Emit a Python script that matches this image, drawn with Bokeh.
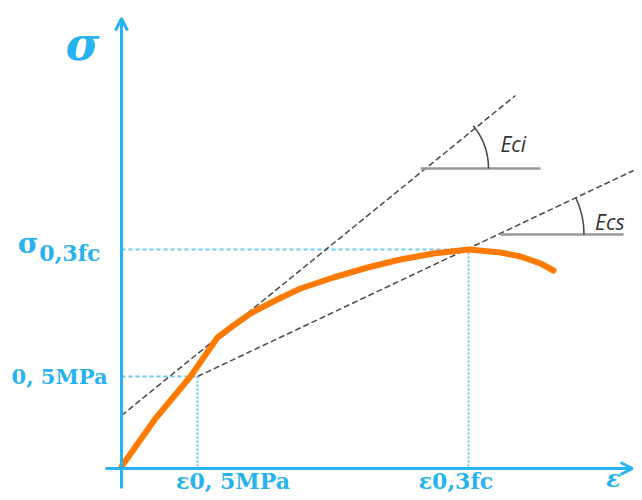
from bokeh.plotting import figure
from bokeh.models import Range1d, Arrow, OpenHead
from bokeh.core.properties import value
from bokeh.embed import file_html
from bokeh.resources import INLINE
import math

# ---- data (arbitrary units: strain, stress) ----
curve_eps = [0.0, 0.34, 0.69, 0.96, 1.12, 1.29, 1.46, 1.62, 1.79, 2.12, 2.46, 2.79, 3.12,
             3.47, 3.79, 3.99, 4.19, 4.32]
curve_sig = [0.0, 0.48, 0.90, 1.29, 1.41, 1.53, 1.62, 1.70, 1.78, 1.89, 1.99, 2.07, 2.13,
             2.17, 2.14, 2.10, 2.03, 1.96]

eps_05 = 0.76      # ε0,5MPa
sig_05 = 0.90      # 0,5MPa
eps_03 = 3.47      # ε0,3fc
sig_03 = 2.17      # σ0,3fc

tangent_eps = [0.0, 3.94]
tangent_sig = [0.51, 3.71]
secant_eps = [0.76, 5.12]
secant_sig = [0.90, 2.96]

eci_ref_eps = [2.99, 4.19]
eci_ref_sig = [2.98, 2.98]
ecs_ref_eps = [3.79, 5.02]
ecs_ref_sig = [2.32, 2.32]

x_tick_labels = ["ε0, 5MPa", "ε0,3fc"]
y_tick_label_05 = "0, 5MPa"

BLUE = "#27b2f0"
LIGHT = "#72c9f0"
ORANGE = "#ff7a00"
DASH = "#4a4a4a"
GRAY = "#999999"

p = figure(width=634, height=492, x_range=Range1d(-1.21, 5.13), y_range=Range1d(-0.26, 4.66),
           output_backend="svg", toolbar_location=None, min_border=0)
p.axis.visible = False
p.grid.visible = False
p.outline_line_color = None
p.background_fill_color = "white"

# guide lines
p.line([0, eps_05], [sig_05, sig_05], color=LIGHT, line_width=1.8, line_dash="4 3")
p.line([eps_05, eps_05], [0, sig_05], color=LIGHT, line_width=2.2, line_dash="2 2")
p.line([0, eps_03], [sig_03, sig_03], color=LIGHT, line_width=1.8, line_dash="4 3")
p.line([eps_03, eps_03], [0, sig_03], color=LIGHT, line_width=2.2, line_dash="2 2")

# tangent and secant
p.line(tangent_eps, tangent_sig, color=DASH, line_width=1.5, line_dash="6 3")
p.line(secant_eps, secant_sig, color=DASH, line_width=1.5, line_dash="6 3")

# reference horizontals and angle arcs
p.line(eci_ref_eps, eci_ref_sig, color=GRAY, line_width=2.5)
p.line(ecs_ref_eps, ecs_ref_sig, color=GRAY, line_width=2.5)
a_ci = math.atan((tangent_sig[1] - tangent_sig[0]) / (tangent_eps[1] - tangent_eps[0]))
a_cs = math.atan((secant_sig[1] - secant_sig[0]) / (secant_eps[1] - secant_eps[0]))
p.arc(x=[eci_ref_eps[0]], y=[eci_ref_sig[0]], radius=0.68, start_angle=0, end_angle=a_ci,
      color=DASH, line_width=1.6)
ecs_cx = secant_eps[0] + (ecs_ref_sig[0] - secant_sig[0]) / math.tan(a_cs)
p.arc(x=[ecs_cx], y=[ecs_ref_sig[0]], radius=0.86, start_angle=0, end_angle=a_cs,
      color=DASH, line_width=1.6)

p.text(x=[eci_ref_eps[0] + 0.80], y=[eci_ref_sig[0] + 0.25], text=["Eci"], text_font=value("Open Sans"),
       text_font_style="italic", text_font_size="21px", text_color="#333333",
       text_align="left", text_baseline="middle")
p.text(x=[ecs_cx + 0.97], y=[ecs_ref_sig[0] + 0.13], text=["Ecs"], text_font=value("Open Sans"),
       text_font_style="italic", text_font_size="21px", text_color="#333333",
       text_align="left", text_baseline="middle")

# stress-strain curve
p.line(curve_eps, curve_sig, color=ORANGE, line_width=6, line_join="round", line_cap="round")

# axes
p.line([0, 0], [-0.22, 4.40], color=BLUE, line_width=3)
p.line([-0.16, 5.08], [-0.02, -0.02], color=BLUE, line_width=3)
p.add_layout(Arrow(end=OpenHead(size=12, line_color=BLUE, line_width=3),
                   x_start=0, y_start=4.0, x_end=0, y_end=4.48, line_color=BLUE, line_width=3))
p.add_layout(Arrow(end=OpenHead(size=12, line_color=BLUE, line_width=3),
                   x_start=4.6, y_start=-0.02, x_end=5.11, y_end=-0.02, line_color=BLUE, line_width=3))

# axis titles
p.text(x=[-0.39], y=[4.23], text=["σ"], text_font=value("DejaVu Serif"), text_font_style="bold italic",
       text_font_size="46px", text_color=BLUE, text_align="center", text_baseline="middle")
p.text(x=[4.92], y=[-0.12], text=["ε"], text_font=value("DejaVu Serif"), text_font_style="bold italic",
       text_font_size="24px", text_color=BLUE, text_align="center", text_baseline="middle")

# y labels
p.text(x=[-0.14], y=[sig_05], text=[y_tick_label_05], text_font=value("DejaVu Serif"),
       text_font_style="bold", text_font_size="21px", text_color=BLUE,
       text_align="right", text_baseline="middle")
p.text(x=[-0.83], y=[sig_03 + 0.06], text=["σ"], text_font=value("DejaVu Serif"),
       text_font_style="bold", text_font_size="28px", text_color=BLUE,
       text_align="right", text_baseline="middle")
p.text(x=[-0.21], y=[sig_03 - 0.03], text=["0,3fc"], text_font=value("DejaVu Serif"),
       text_font_style="bold", text_font_size="22px", text_color=BLUE,
       text_align="right", text_baseline="middle")

# x labels
x_label_shift = [0.355, -0.125]
p.text(x=[e + s for e, s in zip([eps_05, eps_03], x_label_shift)], y=[-0.14, -0.14], text=x_tick_labels,
       text_font=value("DejaVu Serif"), text_font_style="bold", text_font_size="22px",
       text_color=BLUE, text_align="center", text_baseline="middle")

open("out.html", "w").write(file_html(p, INLINE))
